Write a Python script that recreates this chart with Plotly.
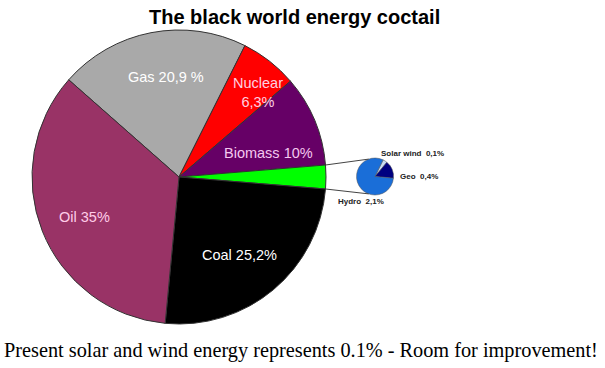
import math
import plotly.graph_objects as go

W, H = 605, 368
OFF = 0  # page body margin removed via post_script

# Main pie data
main_labels = ["Gas", "Nuclear", "Biomass", "Other", "Coal", "Oil"]
main_values = [20.9, 6.3, 10.0, 2.6, 25.2, 35.0]
main_text = ["Gas 20,9 %", "Nuclear<br>6,3%", "Biomass 10%", "", "Coal 25,2%", "Oil 35%"]

# Small pie data (breakdown of "Other")
small_labels = ["Solar wind", "Geo", "Hydro"]
small_values = [0.1, 0.4, 2.1]
small_text = ["Solar wind  0,1%", "Geo  0,4%", "Hydro  2,1%"]

# styles
main_colors = ["#a9a9a9", "#ff0000", "#660066", "#00ff00", "#000000", "#993366"]
main_text_colors = ["#ffffff", "#ffd0e0", "#f4c8f0", "#000000", "#ffffff", "#ffcce8"]
main_text_pos = [(166, 77), (258, 92), (268, 153), None, (239, 255), (84, 217)]
small_colors = ["#c8dcf4", "#000080", "#1a6ed8"]
small_text_pos = [(412, 153), (419, 176), (361, 201)]

# geometry (pixels)
mcx, mcy, mr = 179, 177, 147
scx, scy, sr = 375, 176.5, 18.5
main_rot = -48.6
small_rot = 26


def px(x):
    return (x - OFF) / W


def py(y):
    return 1 - (y - OFF) / H


fig = go.Figure()
fig.add_trace(go.Pie(
    labels=main_labels, values=main_values,
    textinfo="none", sort=False, direction="clockwise", rotation=main_rot,
    marker=dict(colors=main_colors, line=dict(color="#333333", width=1)),
    domain=dict(x=[px(mcx - mr), px(mcx + mr)], y=[py(mcy + mr), py(mcy - mr)]),
    showlegend=False, hoverinfo="label+value",
))
fig.add_trace(go.Pie(
    labels=small_labels, values=small_values,
    textinfo="none", sort=False, direction="clockwise", rotation=small_rot,
    marker=dict(colors=small_colors, line=dict(color="#555555", width=0.5)),
    domain=dict(x=[px(scx - sr), px(scx + sr)], y=[py(scy + sr), py(scy - sr)]),
    showlegend=False, hoverinfo="label+value",
))

for t, c, pos in zip(main_text, main_text_colors, main_text_pos):
    if not t:
        continue
    fig.add_annotation(text=t, x=px(pos[0]), y=py(pos[1]), xref="paper", yref="paper",
                       showarrow=False, font=dict(family="Arial, Liberation Sans", size=14.5, color=c),
                       xanchor="center", yanchor="middle")

# connector lines from the "Other" wedge to the small pie
tot = sum(main_values)
a1 = main_rot + sum(main_values[:3]) / tot * 360
a2 = a1 + main_values[3] / tot * 360
p1 = (mcx + mr * math.sin(math.radians(a1)), mcy - mr * math.cos(math.radians(a1)))
p2 = (mcx + mr * math.sin(math.radians(a2)), mcy - mr * math.cos(math.radians(a2)))
q1 = (scx + sr * math.sin(math.radians(-20)), scy - sr * math.cos(math.radians(-20)))
q2 = (scx + sr * math.sin(math.radians(200)), scy - sr * math.cos(math.radians(200)))
for a, b in [(p1, q1), (p2, q2)]:
    fig.add_shape(type="line", xref="paper", yref="paper",
                  x0=px(a[0]), y0=py(a[1]), x1=px(b[0]), y1=py(b[1]),
                  line=dict(color="#444444", width=1))

for t, (x, y) in zip(small_text, small_text_pos):
    fig.add_annotation(text="<b>" + t + "</b>", x=px(x), y=py(y), xref="paper", yref="paper",
                       showarrow=False, font=dict(family="Arial, Liberation Sans", size=8, color="#222222"),
                       xanchor="center", yanchor="middle")

fig.add_annotation(text="<b>The black world energy coctail</b>", x=px(294), y=py(17),
                   xref="paper", yref="paper", showarrow=False,
                   font=dict(family="Arial, Liberation Sans", size=20, color="#000000"),
                   xanchor="center", yanchor="middle")
fig.add_annotation(text="Present solar and wind energy represents 0.1% - Room for improvement!",
                   x=px(301), y=py(350), xref="paper", yref="paper", showarrow=False,
                   font=dict(family="Liberation Serif, Times New Roman", size=20.3, color="#000000"),
                   xanchor="center", yanchor="middle")

fig.update_layout(width=W, height=H, margin=dict(l=0, r=0, t=0, b=0),
                  paper_bgcolor="white", plot_bgcolor="white")
fig.write_html("out.html", config={"displayModeBar": False},
               post_script="document.body.style.margin='0';document.body.style.overflow='hidden';")
